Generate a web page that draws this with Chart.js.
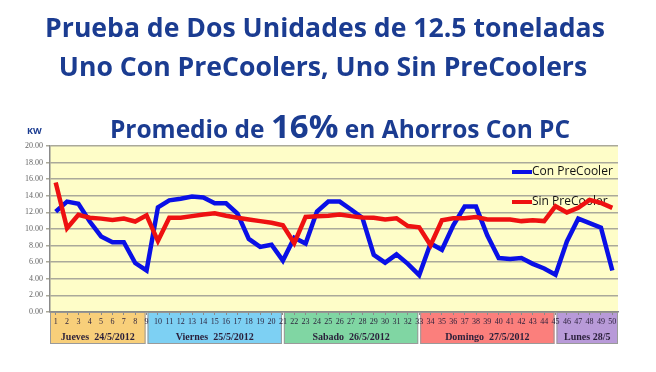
<!DOCTYPE html>
<html>
<head>
<meta charset="utf-8">
<script src="https://cdn.jsdelivr.net/npm/chart.js@4.4.1/dist/chart.umd.min.js"></script>
<style>
  html, body { margin: 0; padding: 0; background: #ffffff; }
  #wrap { width: 656px; height: 372px; }
</style>
</head>
<body>
<div id="wrap"><canvas id="grafica" width="656" height="372"></canvas></div>
<script>
// categorias: mediciones 1..50
const horas = ['1','2','3','4','5','6','7','8','9','10','11','12','13','14','15','16','17','18','19','20',
  '21','22','23','24','25','26','27','28','29','30','31','32','33','34','35','36','37','38','39','40',
  '41','42','43','44','45','46','47','48','49','50'];

// KW con precooler
const conPreCooler = [12.1, 13.3, 13.05, 10.9, 9.1, 8.4, 8.4, 5.9, 5.0, 12.6,
  13.45, 13.65, 13.9, 13.8, 13.1, 13.1, 11.85, 8.8, 7.85, 8.1,
  6.2, 8.95, 8.25, 12.1, 13.3, 13.3, 12.35, 11.35, 6.9, 5.95,
  6.95, 5.8, 4.45, 8.25, 7.5, 10.45, 12.7, 12.7, 9.2, 6.5,
  6.4, 6.5, 5.8, 5.25, 4.5, 8.5, 11.25, 10.7, 10.15, 5.0];

// KW sin precooler
const sinPreCooler = [15.6, 10.1, 11.7, 11.35, 11.25, 11.1, 11.25, 10.9, 11.65, 8.55,
  11.35, 11.35, 11.55, 11.75, 11.9, 11.6, 11.35, 11.15, 10.95, 10.75,
  10.45, 8.3, 11.45, 11.55, 11.6, 11.75, 11.55, 11.4, 11.35, 11.15,
  11.3, 10.35, 10.2, 8.05, 11.05, 11.3, 11.3, 11.45, 11.15, 11.15,
  11.15, 10.95, 11.05, 10.95, 12.75, 12.0, 12.55, 13.5, 13.15, 12.55];

const yTicks = ['0.00','2.00','4.00','6.00','8.00','10.00','12.00','14.00','16.00','18.00','20.00'];

// dias (indice de inicio en horas)
const dias = ['Jueves  24/5/2012', 'Viernes  25/5/2012', 'Sabado  26/5/2012', 'Domingo  27/5/2012', 'Lunes 28/5'];
const diaInicio = [0, 8, 20, 32, 44];
const diaColor = ['#f8cf7a', '#7dd0f3', '#80d6a3', '#fb7f7c', '#b89ad8'];

const azulTitulo = '#1b3c91';

// fondo amarillo + cajas de los dias
const fondoPlugin = {
  id: 'fondo',
  beforeDraw(chart) {
    const c = chart.ctx, a = chart.chartArea, x = chart.scales.x;
    c.save();
    c.fillStyle = '#fefdc8';
    c.fillRect(a.left, a.top, a.right - a.left, a.bottom - a.top);
    for (let i = 0; i < dias.length; i++) {
      const x0 = i === 0 ? a.left : x.getPixelForValue(diaInicio[i]) + 1;
      const x1 = i === dias.length - 1 ? a.right : x.getPixelForValue(diaInicio[i + 1]) - 1;
      c.fillStyle = diaColor[i];
      c.fillRect(x0, a.bottom, x1 - x0, 32);
      c.strokeStyle = '#9a9a9a';
      c.lineWidth = 1;
      c.strokeRect(x0 + 0.5, a.bottom + 0.5, x1 - x0 - 1, 31);
      c.fillStyle = '#2a1f3a';
      c.font = 'bold 10px "Liberation Serif"';
      c.textAlign = 'center';
      c.textBaseline = 'middle';
      c.fillText(dias[i], (x0 + x1) / 2, a.bottom + 25);
    }
    c.restore();
  }
};

// titulos y leyenda
const textosPlugin = {
  id: 'textos',
  beforeDatasetsDraw(chart) {
    const c = chart.ctx;
    c.save();
    c.fillStyle = azulTitulo;
    c.textAlign = 'center';
    c.textBaseline = 'alphabetic';
    c.font = 'bold 26.6px "Open Sans"';
    c.fillText('Prueba de Dos Unidades de 12.5 toneladas', 325, 37);
    c.fillText('Uno Con PreCoolers, Uno Sin PreCoolers', 323, 76);

    // subtitulo con 16% mas grande
    const p1 = 'Promedio de ', p2 = '16%', p3 = ' en Ahorros Con PC';
    c.font = 'bold 24.5px "Open Sans"'; const w1 = c.measureText(p1).width, w3 = c.measureText(p3).width;
    c.font = 'bold 33px "Open Sans"'; const w2 = c.measureText(p2).width;
    let sx = 340 - (w1 + w2 + w3) / 2;
    c.textAlign = 'left';
    c.font = 'bold 24.5px "Open Sans"'; c.fillText(p1, sx, 138);
    c.font = 'bold 33px "Open Sans"'; c.fillText(p2, sx + w1, 138);
    c.font = 'bold 24.5px "Open Sans"'; c.fillText(p3, sx + w1 + w2, 138);

    c.font = 'bold 9px "Open Sans"';
    c.fillText('KW', 27, 134);

    // leyenda
    chart.data.datasets.forEach((ds, i) => {
      const ly = 172 + i * 30;
      c.strokeStyle = ds.borderColor;
      c.lineWidth = 4;
      c.beginPath(); c.moveTo(512, ly); c.lineTo(532, ly); c.stroke();
      c.fillStyle = '#111111';
      c.font = '12px "Open Sans"';
      c.textBaseline = 'middle';
      c.fillText(ds.label, 532, ly);
    });
    c.restore();
  }
};

new Chart(document.getElementById('grafica'), {
  type: 'line',
  data: {
    labels: horas,
    datasets: [
      { label: 'Con PreCooler', data: conPreCooler, borderColor: '#0a10e6', borderWidth: 4.5,
        pointRadius: 0, tension: 0, order: 2 },
      { label: 'Sin PreCooler', data: sinPreCooler, borderColor: '#ee1111', borderWidth: 4.5,
        pointRadius: 0, tension: 0, order: 1 }
    ]
  },
  options: {
    responsive: false,
    animation: false,
    layout: { padding: { top: 146, right: 38, left: 0, bottom: 0 } },
    plugins: { legend: { display: false }, title: { display: false }, tooltip: { enabled: false } },
    scales: {
      x: {
        offset: true,
        afterFit(s) { s.height = 60; },
        grid: { display: true, drawOnChartArea: false, drawTicks: true, tickLength: 3, color: '#8a8a8a' },
        border: { color: '#8a8a8a', width: 1.5 },
        ticks: { color: '#2a1f3a', font: { family: '"Liberation Serif"', size: 8 }, padding: 2,
          autoSkip: false, maxRotation: 0, minRotation: 0 }
      },
      y: {
        min: 0, max: 20,
        afterFit(s) { s.width = 50; },
        grid: { color: '#aaa99a', lineWidth: 1.5, tickLength: 4 },
        border: { color: '#8a8a8a', width: 1.5 },
        ticks: { stepSize: 2, color: '#666666', font: { family: '"Liberation Serif"', size: 8 }, padding: 3,
          callback: (v, i) => yTicks[i] }
      }
    }
  },
  plugins: [fondoPlugin, textosPlugin]
});
</script>
</body>
</html>
